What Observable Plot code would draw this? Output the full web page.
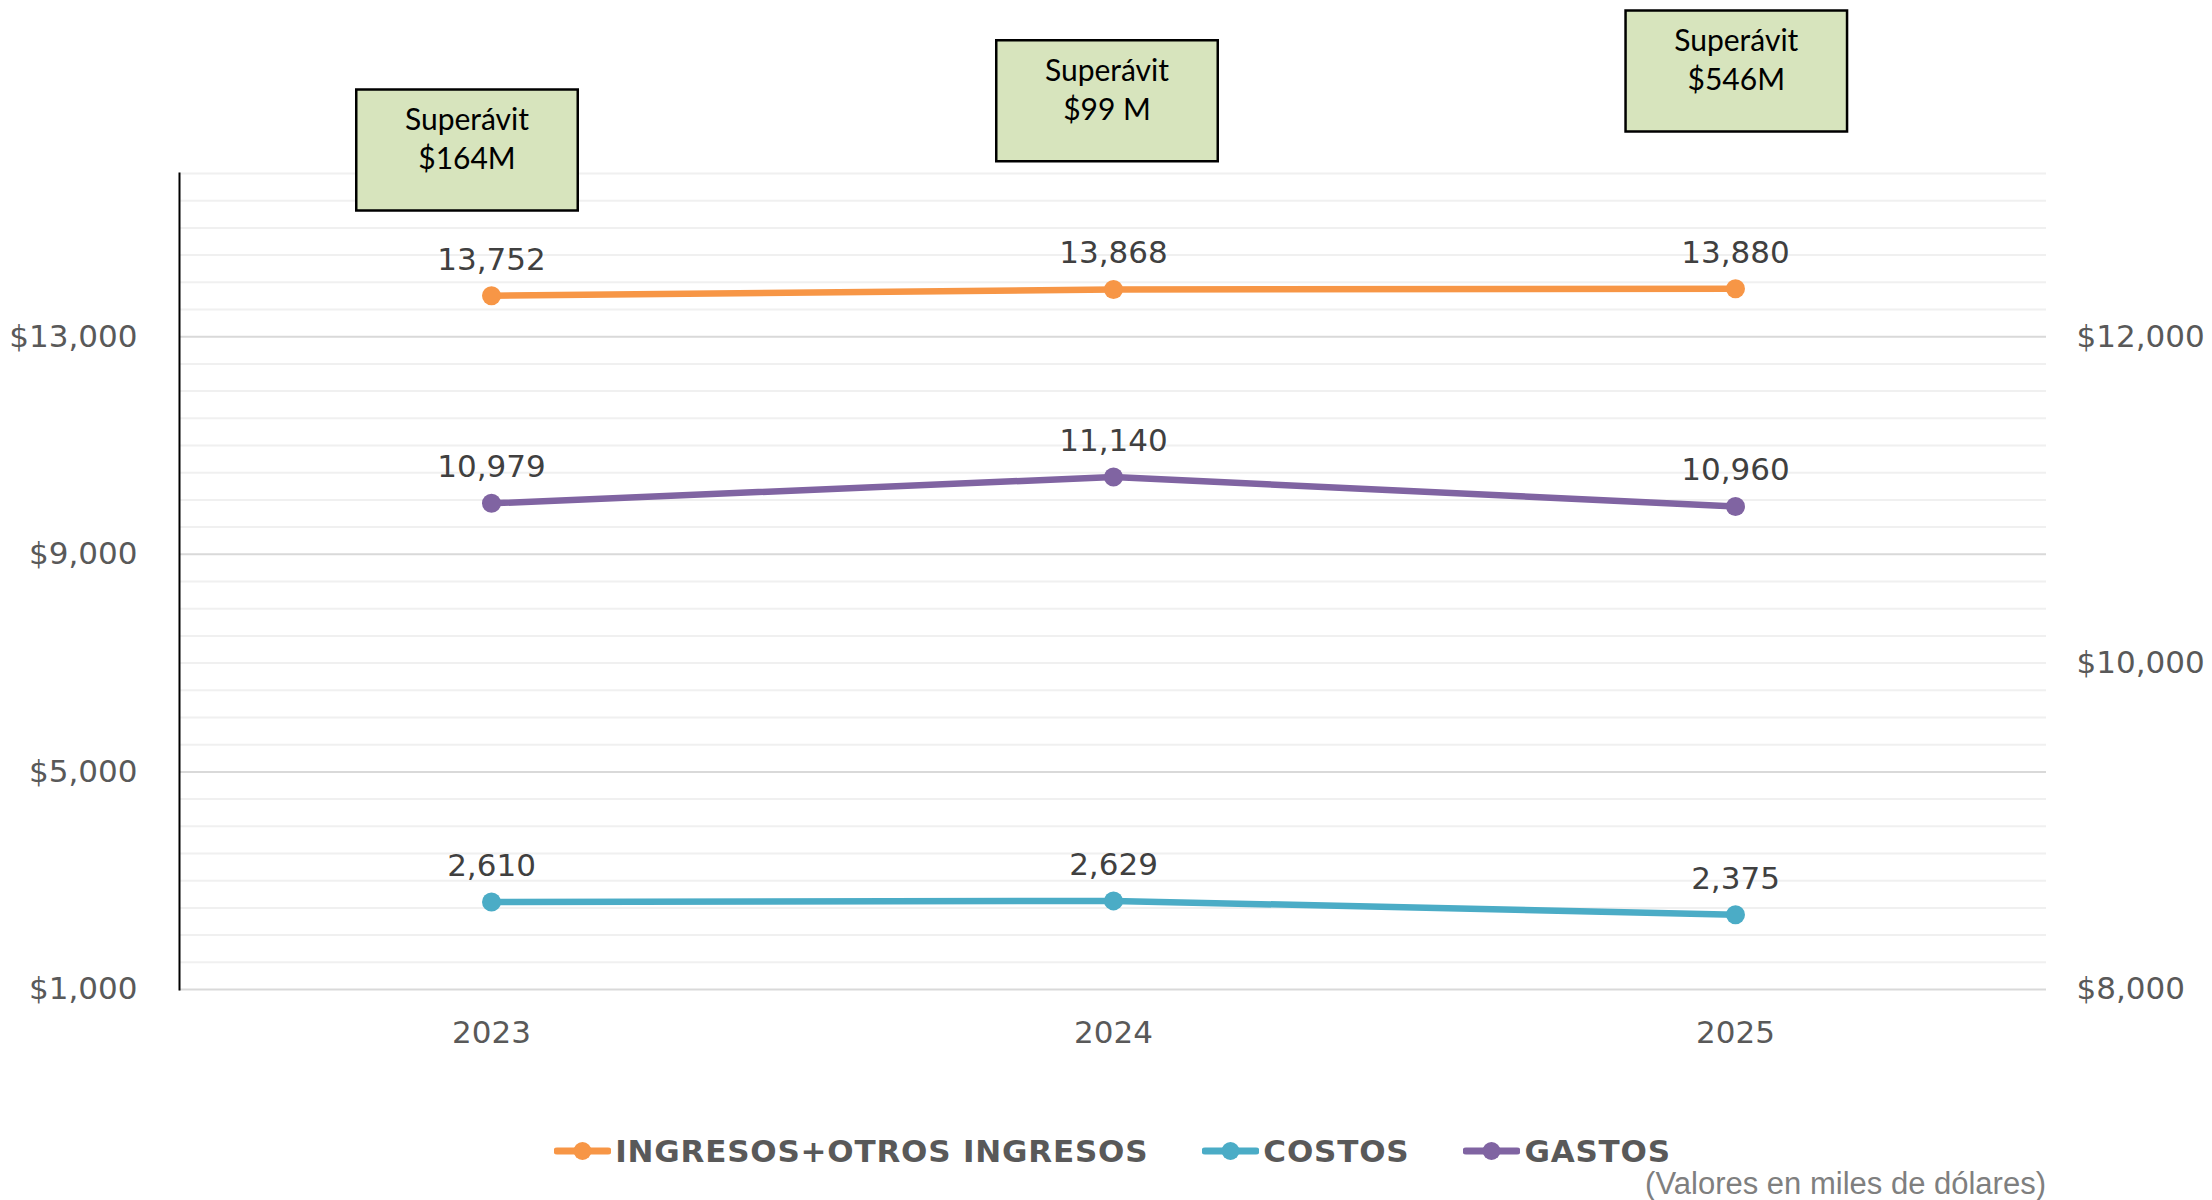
<!DOCTYPE html>
<html>
<head>
<meta charset="utf-8">
<script src="https://cdn.jsdelivr.net/npm/d3@7"></script>
<script src="https://cdn.jsdelivr.net/npm/@observablehq/plot@0.6"></script>
<style>
  html, body { margin: 0; padding: 0; background: #fff; }
  #wrap { position: relative; width: 2212px; height: 1200px; overflow: hidden; }
  #chart { position: absolute; left: 0; top: 0; }
  #legend { position: absolute; left: 179px; width: 1867px; top: 1131px; height: 40px;
            display: flex; justify-content: center; align-items: center; }
  .item { display: flex; align-items: center; margin: 0 27px; }
  .item span { font-family: "DejaVu Sans", Verdana, sans-serif; font-weight: bold; font-size: 31px;
               letter-spacing: 0.8px; color: #595959; margin-left: 4px; }
  #caption { position: absolute; right: 166px; top: 1166px; font-family: "Liberation Sans", Arial, sans-serif;
             font-size: 31px; color: #7f7f7f; line-height: 36px; }
</style>
</head>
<body>
<div id="wrap">
  <div id="chart"></div>
  <div id="legend"></div>
  <div id="caption">(Valores en miles de dólares)</div>
</div>
<script>
// ---- data ----
const years = ["2023", "2024", "2025"];
const seriesNames = ["INGRESOS+OTROS INGRESOS", "COSTOS", "GASTOS"];
const ingresos = [13752, 13868, 13880];   // left axis
const costos = [2610, 2629, 2375];        // left axis
const gastos = [10979, 11140, 10960];     // right axis
const surplusLabels = ["Superávit\n$164M", "Superávit\n$99 M", "Superávit\n$546M"];
const leftTicks = [1000, 5000, 9000, 13000];
const rightTicks = [8000, 10000, 12000];
const leftDomain = [1000, 16000];
const rightDomain = [8000, 13000];
const minorStep = 500;

// ---- styles ----
const colors = ["#F79646", "#4BACC6", "#8064A2"];
const W = 2212, H = 1110;
const M = {top: 173, right: 166, bottom: H - 989, left: 179};

const toLeft = d3.scaleLinear(rightDomain, leftDomain);
const fmt = d3.format(",");

const seriesValues = [ingresos, costos, gastos];
const onRight = [false, false, true];
const rows = [];
seriesNames.forEach((name, s) => {
  years.forEach((year, i) => {
    const v = seriesValues[s][i];
    rows.push({name, year, value: v, y: onRight[s] ? toLeft(v) : v});
  });
});

const minorTicks = d3.range(leftDomain[0], leftDomain[1] + 1, minorStep).filter(v => !leftTicks.includes(v));

// annotation box placement (layout nudges relative to the x position and frame top)
const boxNudge = [{dx: -24.5, dy: -23.5}, {dx: -6.5, dy: -72.7}, {dx: 0.8, dy: -102.5}];
const boxW = 221.5, boxH = 121;
const boxSymbol = {draw(ctx) { ctx.rect(-boxW / 2, -boxH / 2, boxW, boxH); }};

const boxMarks = [];
surplusLabels.forEach((lab, i) => {
  boxMarks.push(Plot.dot([i], {x: d => years[d], frameAnchor: "top", dx: boxNudge[i].dx, dy: boxNudge[i].dy,
    symbol: boxSymbol, r: 10, fill: "#D7E4BD", stroke: "#000", strokeWidth: 2.5}));
  boxMarks.push(Plot.text([i], {x: d => years[d], text: d => surplusLabels[d], frameAnchor: "top",
    lineAnchor: "middle", dx: boxNudge[i].dx, dy: boxNudge[i].dy - 12.5, lineHeight: 1.3,
    fontFamily: "Lato, 'Noto Sans', sans-serif", fontSize: 30, fill: "#000"}));
});

const chart = Plot.plot({
  width: W, height: H,
  marginTop: M.top, marginRight: M.right, marginBottom: M.bottom, marginLeft: M.left,
  style: {fontFamily: "'DejaVu Sans', Verdana, sans-serif", fontSize: "31px", background: "#fff", overflow: "visible"},
  x: {type: "point", domain: years, padding: 0.5},
  y: {domain: leftDomain},
  color: {domain: seriesNames, range: colors},
  marks: [
    Plot.ruleY(minorTicks, {stroke: "#F0F0F0", strokeWidth: 2}),
    Plot.ruleY(leftTicks, {stroke: "#D9D9D9", strokeWidth: 2}),
    Plot.frame({anchor: "left", stroke: "#000", strokeWidth: 2}),
    Plot.axisY(leftTicks, {anchor: "left", tickSize: 0, tickPadding: 42, label: null,
      tickFormat: d => "$" + fmt(d), fill: "#595959", fontSize: 31}),
    Plot.axisY(rightTicks.map(v => toLeft(v)), {anchor: "right", tickSize: 0, tickPadding: 30, label: null,
      tickFormat: d => "$" + fmt(Math.round(toLeft.invert(d))), fill: "#595959", fontSize: 31}),
    Plot.axisX({tickSize: 0, tickPadding: 31, label: null, fill: "#595959", fontSize: 31}),
    ...boxMarks,
    Plot.line(rows, {x: "year", y: "y", z: "name", stroke: "name", strokeWidth: 6.5}),
    Plot.dot(rows, {x: "year", y: "y", fill: "name", r: 9.5}),
    Plot.text(rows, {x: "year", y: "y", text: d => fmt(d.value), dy: -36, fill: "#404040", fontSize: 31})
  ]
});
document.getElementById("chart").appendChild(chart);

// legend
const legend = document.getElementById("legend");
seriesNames.forEach((name, s) => {
  const item = document.createElement("div");
  item.className = "item";
  item.innerHTML = `<svg width="57" height="22"><line x1="3" y1="11" x2="54" y2="11" stroke="${colors[s]}" stroke-width="7" stroke-linecap="round"/><circle cx="28.5" cy="11" r="9" fill="${colors[s]}"/></svg><span>${name}</span>`;
  legend.appendChild(item);
});
</script>
</body>
</html>
